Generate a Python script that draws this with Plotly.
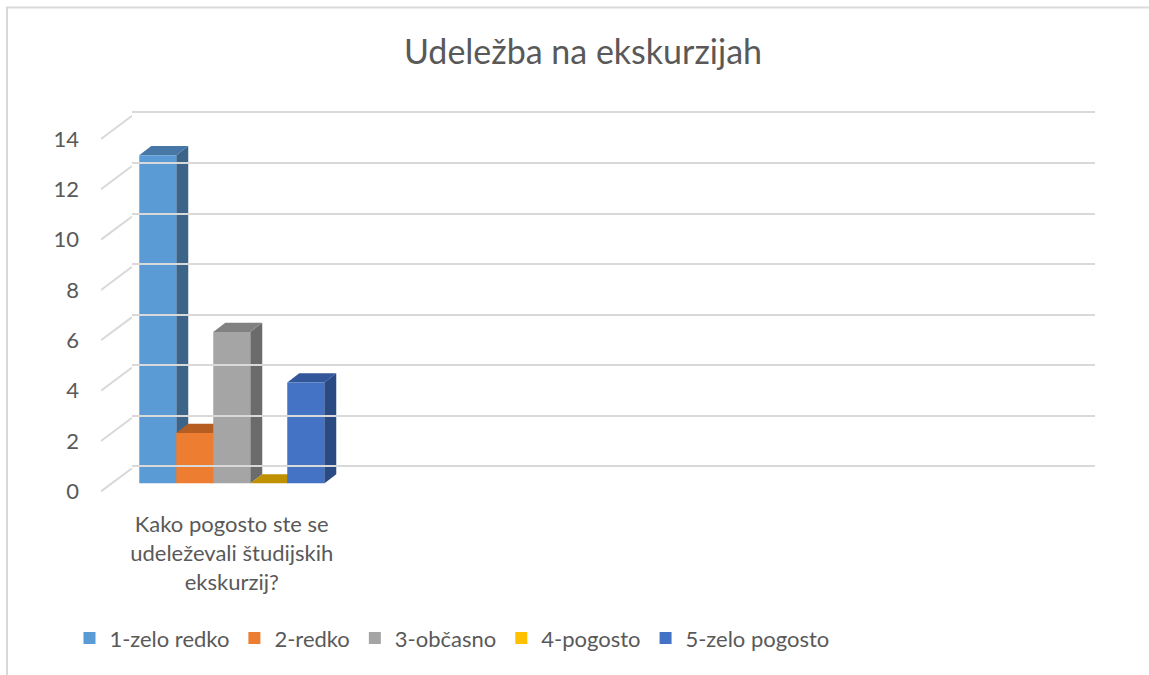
import plotly.graph_objects as go

# ---------------- data ----------------
categories = ["Kako pogosto ste se<br>udeleževali študijskih<br>ekskurzij?", "", "", ""]
series_names = ["1-zelo redko", "2-redko", "3-občasno", "4-pogosto", "5-zelo pogosto"]
# one value list per series (only first category filled)
s1 = [13, None, None, None]
s2 = [2, None, None, None]
s3 = [6, None, None, None]
s4 = [0, None, None, None]
s5 = [4, None, None, None]
series_values = [s1, s2, s3, s4, s5]
y_ticks = [0, 2, 4, 6, 8, 10, 12, 14]
title_text = "Udeležba na ekskurzijah"

# ---------------- styles ----------------
front_colors = ["#5B9BD5", "#ED7D31", "#A5A5A5", "#FFC000", "#4472C4"]
top_colors = ["#4677A7", "#B65E22", "#818181", "#BF9000", "#32579A"]
side_colors = ["#3B6488", "#9C4F1C", "#6B6B6B", "#A27A00", "#2A4A83"]
grid_color = "#D9D9D9"
text_color = "#595959"
FONT = "Lato"

W, H = 1149, 675


def px(x):
    return x / W


def ydom(r0, r1, y0px, ppu):
    return [1 - (y0px - r0 * ppu) / H, 1 - (y0px - r1 * ppu) / H]


n_cat = len(categories)
cat_pos = [i + 0.5 for i in range(n_cat)]

# geometry of the pseudo-3D view
front_x0, front_x1 = 111.5, 1073.5
cat_px = (front_x1 - front_x0) / n_cat
bar_w = 37 / cat_px
group_w = bar_w * len(series_names)
depth_dx = 12 / cat_px
front_ppu = 25.44
depth_dy = 9.3 / front_ppu

fig = go.Figure()

# side and top faces (drawn underneath the front faces)
for i, vals in enumerate(series_values):
    for c, v in zip(cat_pos, vals):
        if v is None:
            continue
        xl = c - group_w / 2 + i * bar_w
        xr = xl + bar_w
        side_x = [xr, xr + depth_dx, xr + depth_dx, xr, xr]
        side_y = [0, depth_dy, v + depth_dy, v, 0]
        top_x = [xl, xl + depth_dx, xr + depth_dx, xr, xl]
        top_y = [v, v + depth_dy, v + depth_dy, v, v]
        fig.add_trace(go.Scatter(x=side_x, y=side_y, fill="toself", fillcolor=side_colors[i],
                                 mode="lines", line=dict(width=0, color=side_colors[i]),
                                 showlegend=False, hoverinfo="skip", xaxis="x", yaxis="y"))
        fig.add_trace(go.Scatter(x=top_x, y=top_y, fill="toself", fillcolor=top_colors[i],
                                 mode="lines", line=dict(width=0, color=top_colors[i]),
                                 showlegend=False, hoverinfo="skip", xaxis="x", yaxis="y"))

# front faces as real bars (overlay subplot so they sit above the faces)
for i, (name, vals) in enumerate(zip(series_names, series_values)):
    fig.add_trace(go.Bar(x=cat_pos, y=vals, name=name, width=bar_w,
                         offset=-group_w / 2 + i * bar_w,
                         marker=dict(color=front_colors[i], line=dict(width=0)),
                         xaxis="x2", yaxis="y2"))

# left wall diagonals (one per tick), front end -> back wall
diag_shift = 0.92
dx_list, dy_list = [], []
for t in y_ticks:
    dx_list += [0, 1, None]
    dy_list += [t, t + diag_shift, None]
fig.add_trace(go.Scatter(x=dx_list, y=dy_list, mode="lines",
                         line=dict(color=grid_color, width=2),
                         showlegend=False, hoverinfo="skip", xaxis="x4", yaxis="y5"))
# back wall anchor trace (gridlines come from the axis)
fig.add_trace(go.Scatter(x=[0, 1], y=[0, 0], mode="lines", line=dict(width=0),
                         opacity=0, showlegend=False, hoverinfo="skip",
                         xaxis="x3", yaxis="y3"))

front_dom_x = [px(front_x0), px(front_x1)]
front_dom_y = ydom(0, 14.5, 487, front_ppu)

fig.update_layout(
    width=W, height=H, autosize=False,
    margin=dict(l=0, r=0, t=0, b=0),
    paper_bgcolor="white", plot_bgcolor="rgba(0,0,0,0)",
    font=dict(family=FONT, color=text_color, size=22),
    barmode="overlay",
    title=dict(text=title_text, x=px(583), y=1 - 52 / H, xanchor="center", yanchor="middle",
               font=dict(family=FONT, size=34, color=text_color)),
    showlegend=True,
    legend=dict(orientation="h", x=px(452), y=1 - 643 / H, xanchor="center", yanchor="middle",
                font=dict(family=FONT, size=22, color=text_color), traceorder="normal",
                bgcolor="rgba(0,0,0,0)", itemwidth=30),
    # faces
    xaxis=dict(domain=front_dom_x, range=[0, n_cat], visible=False, anchor="y"),
    yaxis=dict(domain=front_dom_y, range=[0, 14.5], visible=False, anchor="x"),
    # bars (front faces) + category labels
    xaxis2=dict(overlaying="x", range=[0, n_cat], anchor="y2", showgrid=False, zeroline=False,
                showline=False, ticks="", tickmode="array", tickvals=cat_pos, ticktext=categories,
                tickfont=dict(family=FONT, size=22, color=text_color), ticklabelstandoff=26),
    yaxis2=dict(overlaying="y", range=[0, 14.5], visible=False, anchor="x2"),
    # back wall with gridlines
    xaxis3=dict(domain=[px(132), px(1095)], range=[0, 1], visible=False, anchor="y3"),
    yaxis3=dict(domain=ydom(-0.2, 14.2, 469.7, 25.46), range=[-0.2, 14.2], anchor="x3",
                tickmode="array", tickvals=y_ticks, showticklabels=False, ticks="",
                showgrid=True, gridcolor=grid_color, gridwidth=2,
                zeroline=True, zerolinecolor=grid_color, zerolinewidth=2, showline=False),
    # left wall diagonals + tick labels
    xaxis4=dict(domain=[px(101), px(132)], range=[0, 1], visible=False, anchor="y5"),
    yaxis5=dict(domain=ydom(-0.3, 15.3, 495, 25.36), range=[-0.3, 15.3], anchor="x4",
                side="left", tickmode="array", tickvals=y_ticks, showgrid=False, zeroline=False,
                showline=False, ticks="", ticklabelstandoff=21,
                tickfont=dict(family=FONT, size=22, color=text_color)),
    shapes=[dict(type="rect", xref="paper", yref="paper", x0=px(7), x1=1.02,
                 y0=-0.02, y1=1 - 7.5 / H, line=dict(color=grid_color, width=2),
                 fillcolor="rgba(0,0,0,0)", layer="below")],
)

fig.write_html("out.html", config={"displayModeBar": False},
               post_script="document.body.style.margin='0px';document.body.style.overflow='hidden';")
